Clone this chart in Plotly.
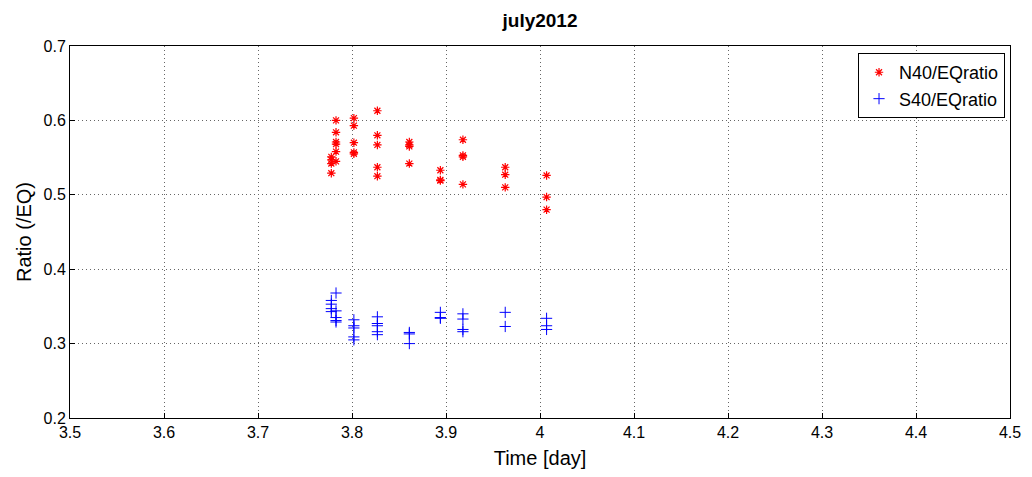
import plotly.graph_objects as go

# North series (red asterisks)
n_x = [3.778]*4 + [3.783]*6 + [3.802]*5 + [3.827]*5 + [3.861]*4 + [3.894]*3 + [3.918]*4 + [3.963]*3 + [4.007]*3
n_y = [0.551, 0.547, 0.542, 0.529,
       0.600, 0.584, 0.571, 0.568, 0.558, 0.545,
       0.603, 0.593, 0.570, 0.557, 0.555,
       0.613, 0.580, 0.567, 0.537, 0.525,
       0.571, 0.567, 0.565, 0.542,
       0.533, 0.520, 0.519,
       0.574, 0.553, 0.551, 0.514,
       0.537, 0.527, 0.510,
       0.526, 0.497, 0.480]

# South series (blue crosses)
s_x = [3.778]*4 + [3.783]*5 + [3.802]*5 + [3.827]*5 + [3.861]*3 + [3.894]*3 + [3.918]*4 + [3.963]*2 + [4.007]*3
s_y = [0.358, 0.353, 0.347, 0.343,
       0.368, 0.344, 0.335, 0.331, 0.329,
       0.332, 0.324, 0.321, 0.309, 0.305,
       0.336, 0.327, 0.324, 0.316, 0.312,
       0.315, 0.313, 0.300,
       0.342, 0.335, 0.334,
       0.340, 0.333, 0.319, 0.316,
       0.342, 0.323,
       0.334, 0.324, 0.319]

x_ticks = [3.5, 3.6, 3.7, 3.8, 3.9, 4.0, 4.1, 4.2, 4.3, 4.4, 4.5]
x_tick_text = ["3.5", "3.6", "3.7", "3.8", "3.9", "4", "4.1", "4.2", "4.3", "4.4", "4.5"]
y_ticks = [0.2, 0.3, 0.4, 0.5, 0.6, 0.7]

font = "Liberation Sans, Arial, sans-serif"

fig = go.Figure()
fig.add_trace(go.Scatter(x=n_x, y=n_y, mode="markers", name="N40/EQratio",
                         marker=dict(symbol="asterisk-open", color="red", size=7,
                                     line=dict(color="red", width=1.2))))
fig.add_trace(go.Scatter(x=s_x, y=s_y, mode="markers", name="S40/EQratio",
                         marker=dict(symbol="cross-thin-open", color="blue", size=8,
                                     line=dict(color="blue", width=1))))

axis_common = dict(showgrid=True, gridcolor="#666666", griddash="1px,3px", gridwidth=1,
                   showline=True, linecolor="black", linewidth=1, mirror=True,
                   ticks="inside", ticklen=5, tickcolor="black", zeroline=False,
                   automargin=False,
                   tickfont=dict(family=font, size=16, color="black"))

fig.update_layout(
    width=1016, height=461,
    paper_bgcolor="white", plot_bgcolor="white",
    margin=dict(l=62, r=14, t=38, b=51),
    title=dict(text="<b>july2012</b>", xref="paper", x=0.5, xanchor="center",
               yref="container", y=1 - 12/461, yanchor="middle",
               font=dict(family=font, size=19, color="black")),
    xaxis=dict(range=[3.5, 4.5], tickvals=x_ticks, ticktext=x_tick_text,
               title=dict(text="Time [day]", font=dict(family=font, size=20, color="black"), standoff=14),
               **axis_common),
    yaxis=dict(range=[0.2, 0.7], tickvals=y_ticks, tickformat=".1f",
               title=dict(text="Ratio (/EQ)", font=dict(family=font, size=20, color="black"), standoff=6),
               **axis_common),
    legend=dict(x=0.9947, y=0.981, xanchor="right", yanchor="top",
                bgcolor="white", bordercolor="black", borderwidth=1,
                font=dict(family=font, size=18, color="black"),
                itemwidth=30, tracegroupgap=0),
    showlegend=True,
)

fig.write_html("out.html")
